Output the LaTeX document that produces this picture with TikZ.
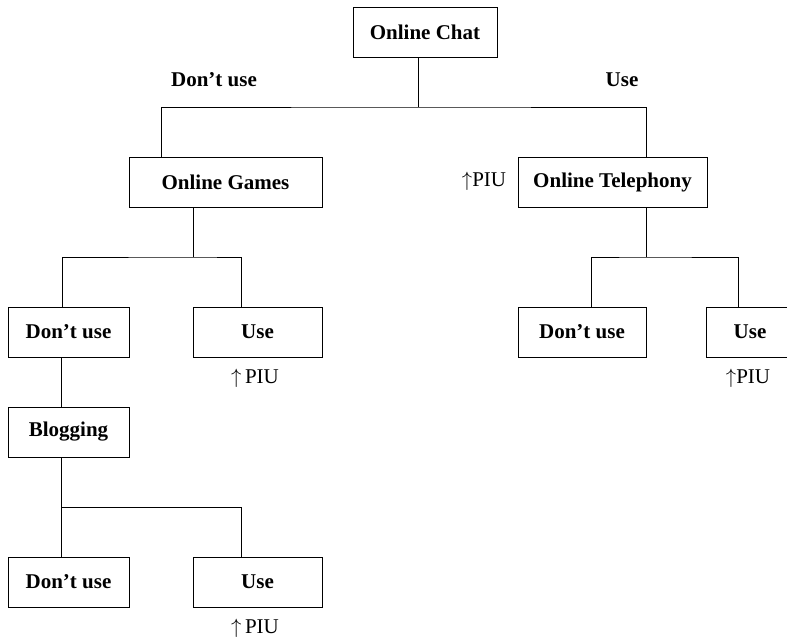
\documentclass[tikz,border=0pt]{standalone}
\usepackage{fontspec}
\setmainfont{Liberation Serif}

\tikzset{
	box/.style={draw, line width=0.9pt, minimum height=50pt, inner sep=0pt, font=\fontsize{21}{24}\selectfont\bfseries},
	link/.style={line width=0.9pt},
	piu/.style={inner sep=0pt, font=\fontsize{21}{24}\selectfont},
	lbl/.style={font=\fontsize{21}{24}\selectfont\bfseries}
}

\begin{document}
\begin{tikzpicture}[x=1pt, y=-1pt]
		\clip (0, 0) rectangle (787, 638);

		\node[box, minimum width=144pt]	(chat)	at (425, 32)	{Online Chat};
		\node[box, minimum width=193pt]	(games)	at (225.5, 182)	{Online Games};
		\node[box, minimum width=189pt]	(tel)	at (612.5, 182)	{Online Telephony};
		\node[box, minimum width=121pt]	(gdont)	at (68.5, 332)	{Don’t use};
		\node[box, minimum width=129pt]	(guse)	at (257.5, 332)	{Use};
		\node[box, minimum width=128pt]	(tdont)	at (582, 332)	{Don’t use};
		\node[box, minimum width=88pt]	(tuse)	at (750, 332)	{Use};
		\node[box, minimum width=121pt]	(blog)	at (68.5, 432)	{Blogging};
		\node[box, minimum width=121pt]	(bdont)	at (68.5, 582)	{Don’t use};
		\node[box, minimum width=129pt]	(buse)	at (257.5, 582)	{Use};

		\coordinate (rootj)	at (418, 107);
		\coordinate (gamej)	at (193, 257);
		\coordinate (telj)	at (646, 257);
		\coordinate (blogj)	at (61, 507);

		\draw[link]	(chat.south -| rootj) -- (rootj);
		\draw[link]	(games.north -| 161,0) |- (rootj) -| (tel.north -| telj);
		\draw[link]	(games.south -| gamej) -- (gamej);
		\draw[link]	(gdont.north -| 62,0) |- (gamej) -| (guse.north -| 241,0);
		\draw[link]	(tel.south -| telj) -- (telj);
		\draw[link]	(tdont.north -| 591,0) |- (telj) -| (tuse.north -| 738,0);
		\draw[link]	(gdont.south -| blogj) -- (blog.north -| blogj);
		\draw[link]	(blog.south -| blogj) -- (blogj) -| (buse.north -| 241,0);
		\draw[link]	(blogj) -- (bdont.north -| blogj);

		\node[lbl]	(dontlbl)	at (214, 80)	{Don’t use};
		\node[lbl]	(uselbl)	at (622, 80)	{Use};

		\node[piu]	(piutel)	at (484, 181)	{$\uparrow$PIU};
		\node[piu]	(piugame)	at (255, 378)	{$\uparrow$\,PIU};
		\node[piu]	(piutuse)	at (748, 378)	{$\uparrow$PIU};
		\node[piu]	(piublog)	at (255, 628)	{$\uparrow$\,PIU};
	\end{tikzpicture}
\end{document}
